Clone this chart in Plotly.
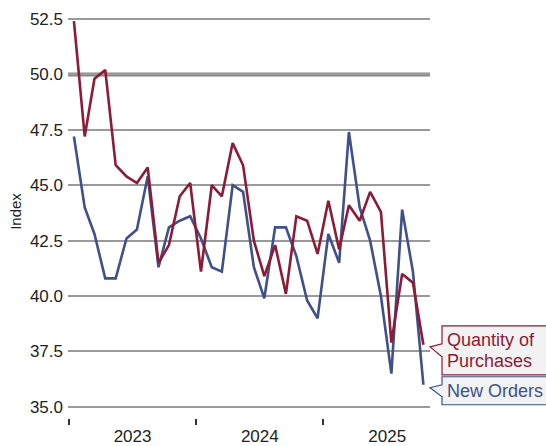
import plotly.graph_objects as go
import pandas as pd

# Monthly index values, Jan 2023 - Oct 2025
months = [d + pd.Timedelta(days=14) for d in pd.date_range("2023-01-01", periods=34, freq="MS")]
purchases = [52.4, 47.2, 49.8, 50.2, 45.9, 45.4, 45.1, 45.8, 41.5, 42.3, 44.5, 45.1,
             41.1, 45.0, 44.5, 46.9, 45.9, 42.5, 40.9, 42.3, 40.1, 43.6, 43.4, 41.9,
             44.3, 42.1, 44.1, 43.4, 44.7, 43.8, 37.9, 41.0, 40.6, 37.8]
new_orders = [47.2, 44.0, 42.8, 40.8, 40.8, 42.6, 43.0, 45.4, 41.3, 43.1, 43.4, 43.6,
              42.6, 41.3, 41.1, 45.0, 44.7, 41.3, 39.9, 43.1, 43.1, 41.8, 39.8, 39.0,
              42.8, 41.5, 47.4, 44.0, 42.5, 40.0, 36.5, 43.9, 41.1, 36.0]
series_names = [["Quantity of", "Purchases"], ["New Orders"]]
reference_level = 50.0

RED = "#8c1b35"
BLUE = "#3f508a"
FONT = "Liberation Sans, Arial, sans-serif"

fig = go.Figure()
fig.add_trace(go.Scatter(x=months, y=new_orders, mode="lines",
                         line=dict(color=BLUE, width=2.6), showlegend=False))
fig.add_trace(go.Scatter(x=months, y=purchases, mode="lines",
                         line=dict(color=RED, width=2.6), showlegend=False))

# reference line at 50
fig.add_shape(type="line", xref="paper", x0=0, x1=1, yref="y", y0=reference_level, y1=reference_level,
              line=dict(color="#888888", width=4), layer="below")

# callout labels
LINE_H = 20.5
callouts = [
    (series_names[0], purchases[-1], RED, (19, -30, 1, -2, -12)),
    (series_names[1], new_orders[-1], BLUE, (8, -20, 0, -3, -12)),
]
for lines, val, col, (top, bot, n1, tip, n2) in callouts:
    path = (f"M 12,{top} L 130,{top} L 130,{bot} L 12,{bot} L 12,{n2} "
            f"L 0,{tip} L 12,{n1} Z")
    fig.add_shape(type="path", xref="paper", xsizemode="pixel", xanchor=1,
                  yref="y", ysizemode="pixel", yanchor=val, path=path,
                  fillcolor="#f2f2f2", line=dict(color=col, width=1.2), layer="above")
    center = (top + bot) / 2
    n = len(lines)
    for i, line in enumerate(lines):
        fig.add_annotation(x=1, xref="paper", xanchor="left", xshift=15,
                           y=val, yref="y", yanchor="middle",
                           yshift=center + ((n - 1) / 2 - i) * LINE_H,
                           text=line, showarrow=False, align="left",
                           font=dict(size=18, color=col, family=FONT))

fig.update_layout(
    width=546, height=446,
    margin=dict(l=68, r=116, t=5, b=28),
    plot_bgcolor="white", paper_bgcolor="white",
    font=dict(family=FONT, size=17, color="#222222"),
    xaxis=dict(
        type="date",
        range=["2022-12-29", "2025-11-03"],
        tick0="2023-01-01", dtick="M12",
        tickformat="%Y", ticklabelmode="period",
        ticks="outside", ticklen=6, tickwidth=1.5, tickcolor="#333333",
        ticklabelstandoff=-3,
        showgrid=False, showline=False, zeroline=False,
        automargin=False,
    ),
    yaxis=dict(
        range=[34.5, 53.13],
        tick0=35, dtick=2.5, tickformat=".1f",
        showgrid=True, gridcolor="#9a9a9a", gridwidth=1.5,
        zeroline=False, showline=False,
        ticklabelstandoff=4,
        title=dict(text="Index", font=dict(size=15), standoff=4),
        automargin=False,
    ),
)

fig.write_html("out.html")
